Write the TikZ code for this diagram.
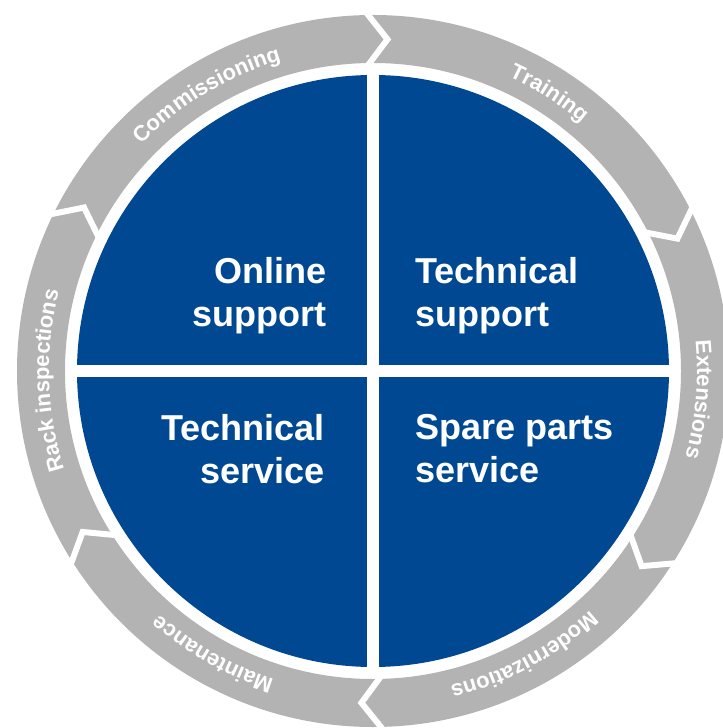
\documentclass[tikz,border=0pt]{standalone}
\usepackage{fontspec}
\setmainfont{Liberation Sans}
\usepackage{tikz}
\usetikzlibrary{shapes,calc}
\usetikzlibrary{decorations.text}
\definecolor{ringgray}{RGB}{179,179,179}
\definecolor{serviceblue}{RGB}{0,73,146}
\newcommand{\ringfont}{\fontsize{12.5}{15}\selectfont\bfseries}

\begin{document}
\begin{tikzpicture}[scale=0.02]
{\bfseries
	\tikzstyle{quarter} = [text=white, inner sep=0pt, font=\fontsize{20.5}{24.5}\selectfont\bfseries]
	\tikzstyle{gap} = [white, line width=3.4pt, line join=miter]
	\tikzstyle{ringtext} = [decorate, decoration={text along path, text align=center, text color=white}]
	\useasboundingbox (-373,-357) rectangle (349,371);

	% ring and disc
	\fill [ringgray, even odd rule] (0,0) circle (356) (0,0) circle (308);
	\fill [serviceblue] (0,0) circle (296);
	\draw [white, line width=6.8pt] (0,-300) -- (0,300);
	\draw [white, line width=6.8pt] (-300,0) -- (300,0);

	% chevrons between the ring parts
	\draw [gap] (91.5:362) -- (87.5:332) -- (91.5:302);
	\draw [gap] (27.5:362) -- (23.5:332) -- (27.5:302);
	\draw [gap] (-32:362) -- (-36:332) -- (-32:302);
	\draw [gap] (-88:362) -- (-92:332) -- (-88:302);
	\draw [gap] (-147:362) -- (-151:332) -- (-147:302);
	\draw [gap] (154.5:362) -- (150.5:332) -- (154.5:302);

	% ring labels
	\path [ringtext, decoration={text={|\ringfont|Commissioning}}] (151:324) arc[start angle=151, end angle=91, radius=324];
	\path [ringtext, decoration={text={|\ringfont|Training}}] (87.6:324) arc[start angle=87.6, end angle=27.6, radius=324];
	\path [ringtext, decoration={text={|\ringfont|Extensions}}] (25:324) arc[start angle=25, end angle=-35, radius=324];
	\path [ringtext, decoration={text={|\ringfont|Modernizations}}] (-32:324) arc[start angle=-32, end angle=-92, radius=324];
	\path [ringtext, decoration={text={|\ringfont|Maintenance}}] (-89.5:324) arc[start angle=-89.5, end angle=-149.5, radius=324];
	\path [ringtext, decoration={text={|\ringfont|Rack inspections}}] (-148.3:324) arc[start angle=-148.3, end angle=-208.3, radius=324];

	% quadrant texts
	\node (online) [quarter, anchor=north east, align=right] at (-46,114) {Online\\support};
	\node (techsupport) [quarter, anchor=north west, align=left] at (42,114) {Technical\\support};
	\node (techservice) [quarter, anchor=north east, align=right] at (-48,-43) {Technical\\service};
	\node (spareparts) [quarter, anchor=north west, align=left] at (42,-43) {Spare parts\\service};
	}
\end{tikzpicture}
\end{document}
